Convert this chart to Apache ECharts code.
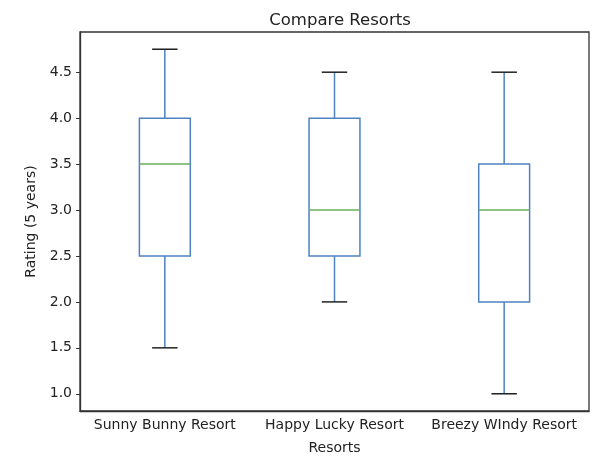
<!DOCTYPE html>
<html>
<head>
<meta charset="utf-8">
<script src="https://cdn.jsdelivr.net/npm/echarts@6/dist/echarts.min.js"></script>
<style>html,body{margin:0;padding:0;background:#fff;}#c{width:596px;height:460px;}</style>
</head>
<body>
<div id="c"></div>
<script>
var categories = ['Sunny Bunny Resort', 'Happy Lucky Resort', 'Breezy WIndy Resort'];
var mins    = [1.5, 2.0, 1.0];
var q1s     = [2.5, 2.5, 2.0];
var medians = [3.5, 3.0, 3.0];
var q3s     = [4.0, 4.0, 3.5];
var maxs    = [4.75, 4.5, 4.5];
var yTicks  = [1.0, 1.5, 2.0, 2.5, 3.0, 3.5, 4.0, 4.5];

var data = categories.map(function (c, i) {
  return [i, mins[i], q1s[i], medians[i], q3s[i], maxs[i]];
});

var FONT = 'DejaVu Sans';
var chart = echarts.init(document.getElementById('c'), null, {renderer: 'canvas'});
chart.setOption({
  animation: false,
  title: {
    text: 'Compare Resorts', left: 335, top: 7, textAlign: 'center',
    textStyle: {fontFamily: FONT, fontSize: 16.5, fontWeight: 'normal', color: '#222'}
  },
  grid: {left: 80, right: 7, top: 32, bottom: 48.5, show: true, borderColor: '#333', borderWidth: 1.3},
  xAxis: {
    type: 'category', data: categories, boundaryGap: true,
    name: 'Resorts', nameLocation: 'middle', nameGap: 30,
    nameTextStyle: {fontFamily: FONT, fontSize: 14, color: '#222'},
    axisLine: {lineStyle: {color: '#333', width: 1.3}},
    axisTick: {alignWithLabel: true, length: 4, lineStyle: {color: '#333'}},
    axisLabel: {fontFamily: FONT, fontSize: 14, color: '#222', margin: 7, interval: 0},
    splitLine: {show: false}
  },
  yAxis: {
    type: 'value', min: 0.8125, max: 4.9375,
    name: 'Rating (5 years)', nameLocation: 'middle', nameGap: 42, nameRotate: 90,
    nameTextStyle: {fontFamily: FONT, fontSize: 14, color: '#222'},
    axisLine: {show: true, lineStyle: {color: '#333', width: 1.3}},
    axisTick: {show: true, length: 4, lineStyle: {color: '#333'}, customValues: yTicks},
    axisLabel: {
      fontFamily: FONT, fontSize: 14, color: '#222', margin: 8,
      formatter: function (v) { return v.toFixed(1); },
      customValues: yTicks
    },
    splitLine: {show: false}
  },
  series: [{
    type: 'custom',
    data: data,
    encode: {x: 0, y: [1, 2, 3, 4, 5]},
    renderItem: function (params, api) {
      var xi = api.value(0);
      var pMin = api.coord([xi, api.value(1)]);
      var pQ1 = api.coord([xi, api.value(2)]);
      var pMed = api.coord([xi, api.value(3)]);
      var pQ3 = api.coord([xi, api.value(4)]);
      var pMax = api.coord([xi, api.value(5)]);
      var bw = api.size([1, 0])[0] * 0.3;
      var cx = pMin[0];
      var blue = '#4f82c0', green = '#67b05a', black = '#222';
      function line(x1, y1, x2, y2, color) {
        return {type: 'line', shape: {x1: x1, y1: y1, x2: x2, y2: y2},
                style: {stroke: color, lineWidth: 1.5}};
      }
      return {type: 'group', children: [
        line(cx, pQ1[1], cx, pMin[1], blue),
        line(cx, pQ3[1], cx, pMax[1], blue),
        {type: 'rect', shape: {x: cx - bw / 2, y: pQ3[1], width: bw, height: pQ1[1] - pQ3[1]},
         style: {fill: 'none', stroke: blue, lineWidth: 1.5}},
        line(cx - bw / 2, pMed[1], cx + bw / 2, pMed[1], green),
        line(cx - bw / 4, pMin[1], cx + bw / 4, pMin[1], black),
        line(cx - bw / 4, pMax[1], cx + bw / 4, pMax[1], black)
      ]};
    }
  }]
});
</script>
</body>
</html>
